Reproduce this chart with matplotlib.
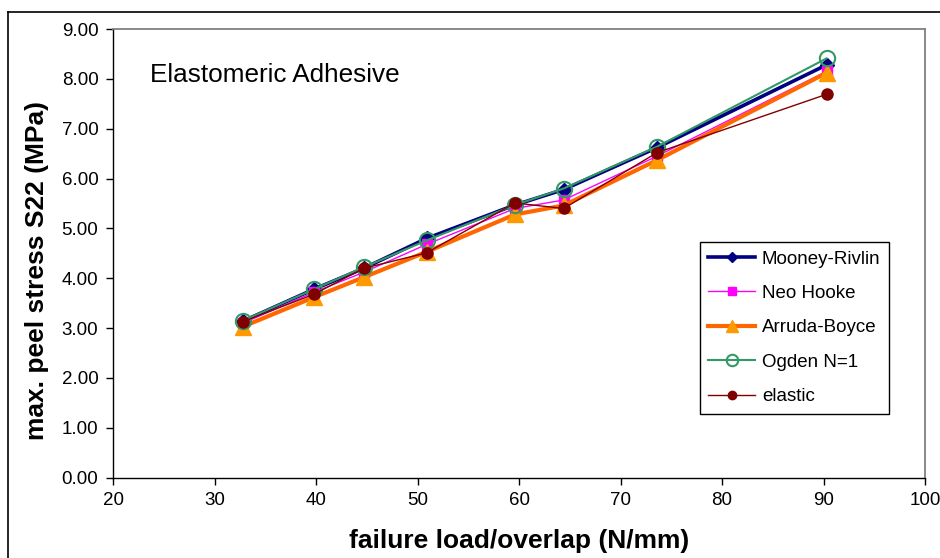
import matplotlib
matplotlib.use("Agg")
import matplotlib.pyplot as plt
from matplotlib.lines import Line2D

plt.rcParams['font.family'] = ['Liberation Sans', 'DejaVu Sans']

# failure load per overlap length (N/mm)
load = [32.8, 39.8, 44.7, 50.9, 59.6, 64.4, 73.6, 90.3]

# maximum peel stress S22 (MPa) per material model
mooney_rivlin = [3.14, 3.78, 4.20, 4.80, 5.47, 5.78, 6.62, 8.28]
neo_hooke     = [3.10, 3.72, 4.12, 4.68, 5.40, 5.57, 6.45, 8.15]
arruda_boyce  = [3.03, 3.62, 4.02, 4.53, 5.28, 5.46, 6.37, 8.12]
ogden_n1      = [3.15, 3.78, 4.22, 4.76, 5.47, 5.80, 6.64, 8.41]
elastic       = [3.13, 3.68, 4.20, 4.51, 5.51, 5.40, 6.52, 7.69]

xticks = [20, 30, 40, 50, 60, 70, 80, 90, 100]
yticks = [0, 1, 2, 3, 4, 5, 6, 7, 8, 9]

fig = plt.figure(figsize=(9.4, 5.58), dpi=100)
ax = fig.add_axes([113 / 940, 1 - 477.7 / 558, (925 - 113) / 940, (477.7 - 29) / 558])

ax.plot(load, mooney_rivlin, color='#000080', lw=2.6, marker='D', ms=7,
        mfc='#000080', mec='#000080', label='Mooney-Rivlin', zorder=3)
ax.plot(load, neo_hooke, color='#FF00FF', lw=1.0, marker='s', ms=7,
        mfc='#FF00FF', mec='#FF00FF', label='Neo Hooke', zorder=4)
ax.plot(load, arruda_boyce, color='#FF6600', lw=3.0, marker='^', ms=12,
        mfc='#FF9900', mec='#FF9900', label='Arruda-Boyce', zorder=5)
ax.plot(load, ogden_n1, color='#339966', lw=1.5, marker='o', ms=11,
        mfc='none', mec='#339966', mew=1.5, label='Ogden N=1', zorder=6)
ax.plot(load, elastic, color='#800000', lw=1.0, marker='o', ms=8,
        mfc='#800000', mec='#800000', label='elastic', zorder=7)

ax.set_xlim(20, 100)
ax.set_ylim(0, 9)
ax.set_xticks(xticks)
ax.set_yticks(yticks)
ax.set_yticklabels([f"{v:.2f}" for v in yticks])
ax.tick_params(axis='both', direction='out', length=5, width=1, colors='black',
               labelsize=13.5)
ax.tick_params(axis='y', pad=5.5)
ax.tick_params(axis='x', pad=5)

for side in ('top', 'right'):
    ax.spines[side].set_color('#808080')
    ax.spines[side].set_linewidth(1.3)
for side in ('left', 'bottom'):
    ax.spines[side].set_color('black')
    ax.spines[side].set_linewidth(1.0)

ax.set_xlabel('failure load/overlap (N/mm)', fontsize=19, fontweight='bold')
ax.set_ylabel('max. peel stress S22 (MPa)', fontsize=19, fontweight='bold')
ax.xaxis.set_label_coords(0.5, -(541 - 477.7) / 448.7, transform=ax.transAxes)
ax.xaxis.label.set_va('center')
ax.yaxis.set_label_coords(-(113 - 37) / 812, (477.7 - 271) / 448.7, transform=ax.transAxes)
ax.yaxis.label.set_va('center')

ax.text(150 / 940, 1 - 75 / 558, 'Elastomeric Adhesive', transform=fig.transFigure,
        fontsize=18.8, va='center', ha='left')

leg = ax.legend(loc='upper left', bbox_to_anchor=(700 / 940, 1 - 242 / 558),
                bbox_transform=fig.transFigure, fontsize=13.5, frameon=True,
                fancybox=False, shadow=False, edgecolor='black', framealpha=1,
                handlelength=2.5, handletextpad=0.35, labelspacing=0.92,
                borderpad=0.45, borderaxespad=0, markerscale=0.75)
leg.get_frame().set_linewidth(1.0)

# outer chart border
fig.add_artist(Line2D([8 / 940, 8 / 940], [-0.01, 1 - 12 / 558], color='black', lw=1.2,
                      transform=fig.transFigure))
fig.add_artist(Line2D([8 / 940, 1.01], [1 - 12 / 558, 1 - 12 / 558], color='black', lw=1.2,
                      transform=fig.transFigure))

fig.savefig('out.png', dpi=100)
